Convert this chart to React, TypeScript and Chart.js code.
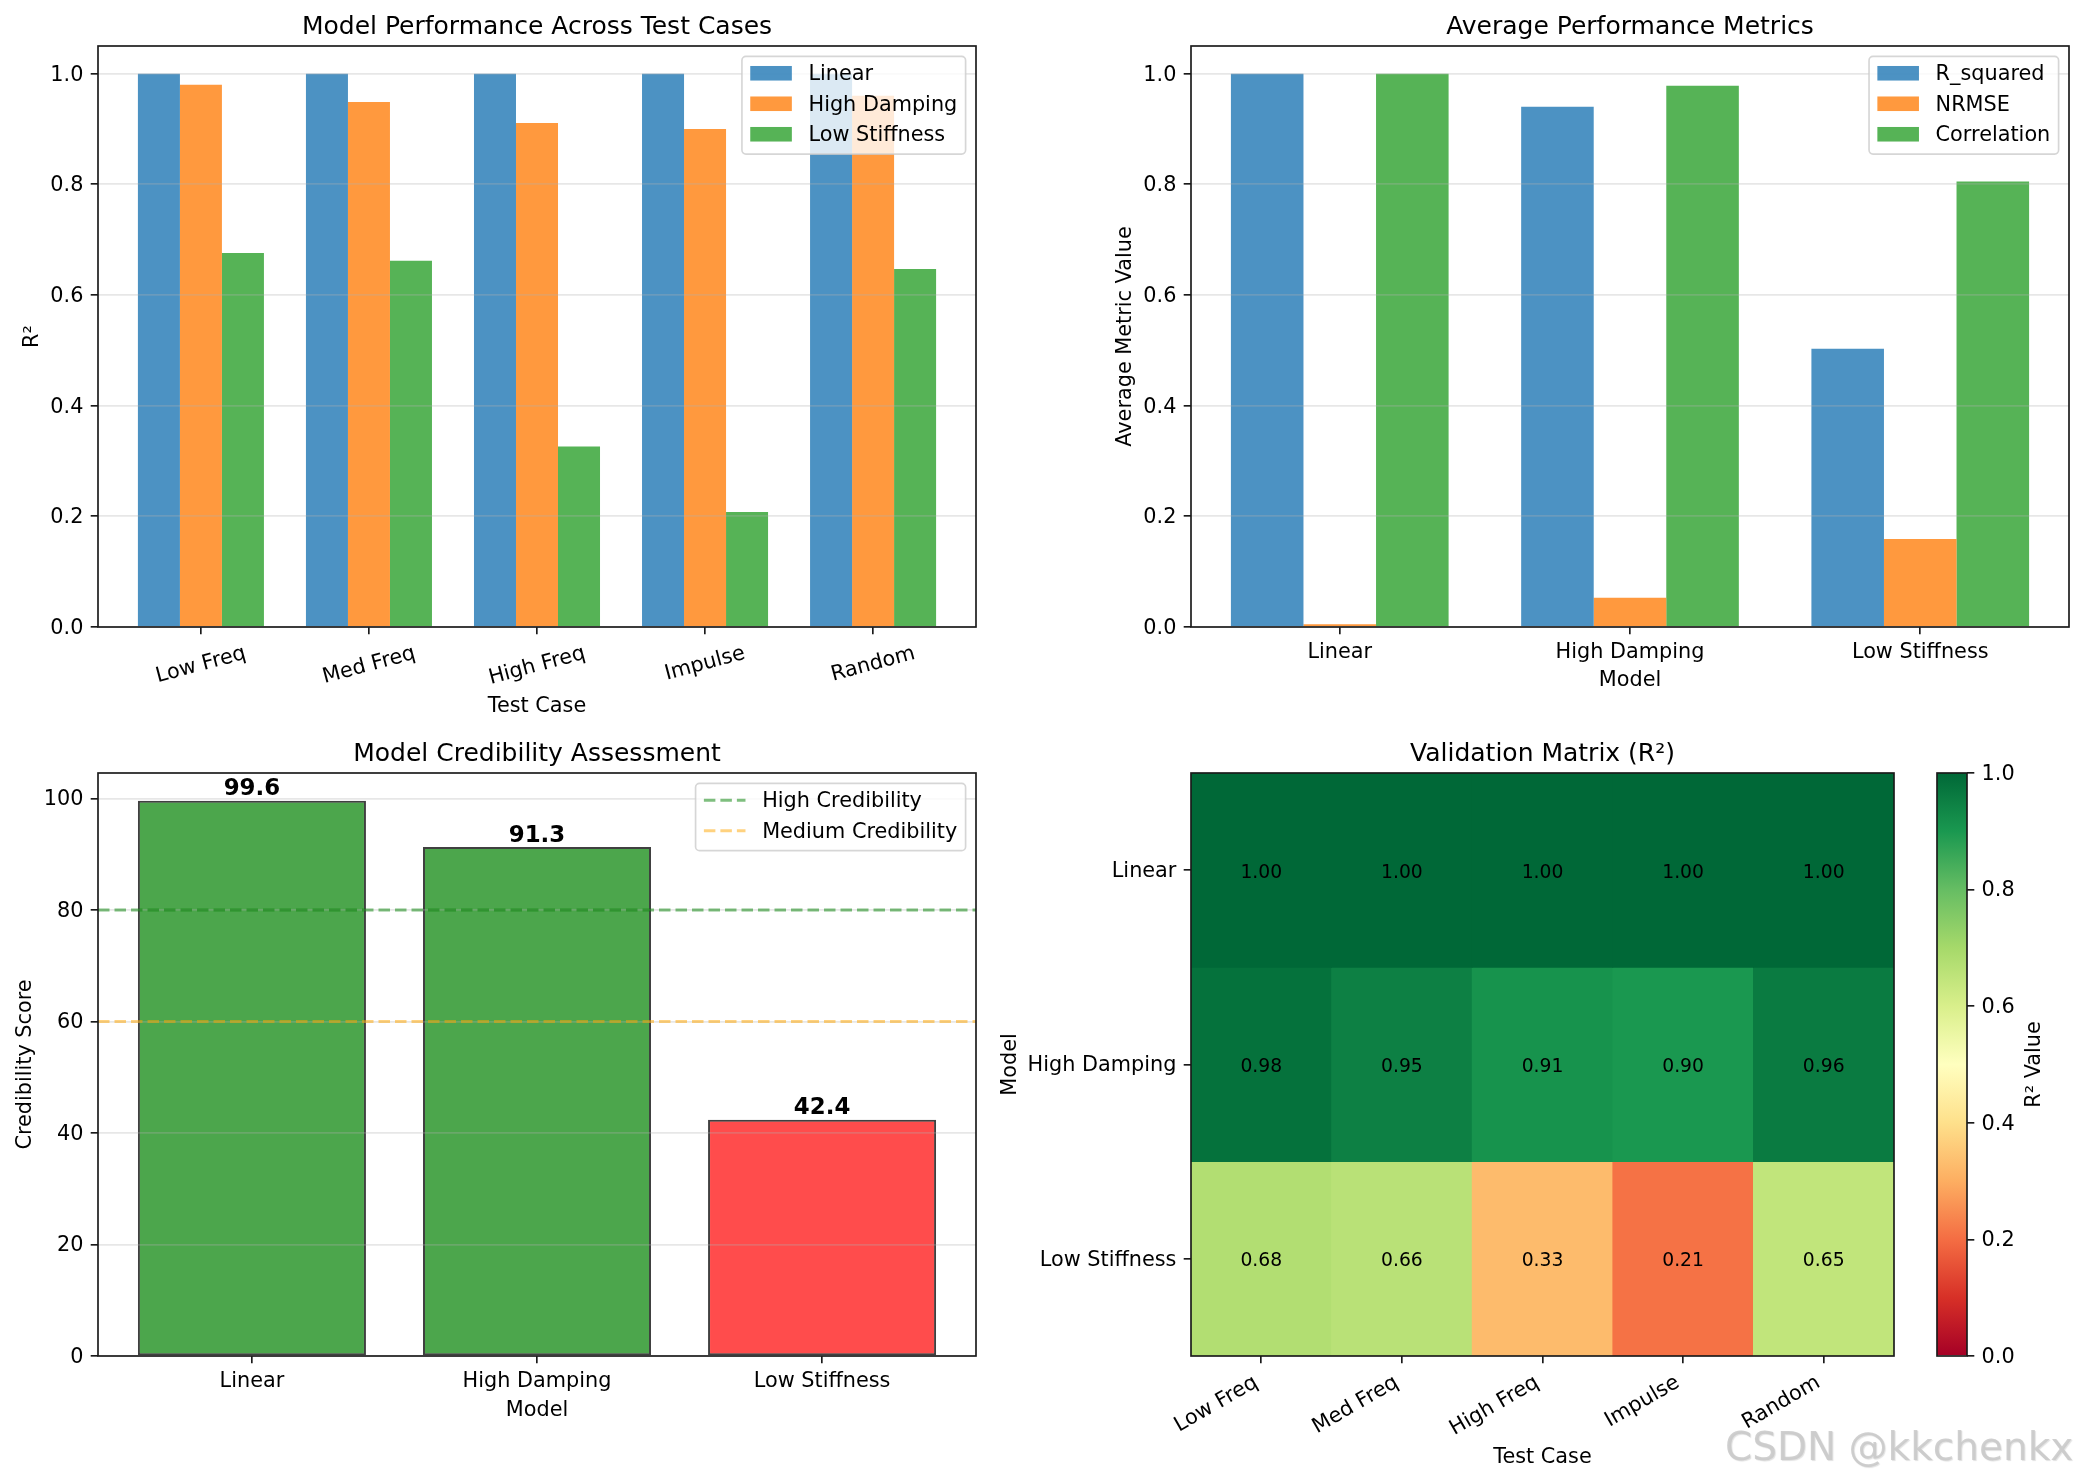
import React, { useEffect, useRef } from 'react';
import { Chart, registerables } from 'chart.js';

Chart.register(...registerables);

const PAGE_W = 2084;
const PAGE_H = 1481;
const FONT = '"DejaVu Sans", "Liberation Sans", sans-serif';
const FS = 20.8; // 10pt at 150 dpi
const TITLE_FS = 25;
const SPINE = '#1a1a1a';
const GRID = 'rgba(176,176,176,0.3)';
const LW = 1.67;
const TICK_LEN = 7.3;
const TICK_PAD = 7.3;

Chart.defaults.font.family = FONT;
Chart.defaults.color = '#000';

// ---------------- data ----------------
const testCases = ['Low Freq', 'Med Freq', 'High Freq', 'Impulse', 'Random'];
const modelNames = ['Linear', 'High Damping', 'Low Stiffness'];

// R² per test case
const r2Linear = [1.0, 1.0, 1.0, 1.0, 1.0];
const r2HighDamping = [0.98, 0.949, 0.911, 0.9, 0.96];
const r2LowStiffness = [0.676, 0.662, 0.326, 0.208, 0.647];

// averaged metrics per model
const metricNames = ['R_squared', 'NRMSE', 'Correlation'];
const avgRSquared = [1.0, 0.94, 0.503];
const avgNrmse = [0.005, 0.053, 0.159];
const avgCorrelation = [1.0, 0.978, 0.805];

// credibility
const credibilityScores = [99.6, 91.3, 42.4];
const thresholdValues = [80, 60];
const thresholdNames = ['High Credibility', 'Medium Credibility'];

// tick values
const r2Ticks = [0, 0.2, 0.4, 0.6, 0.8, 1.0];
const scoreTicks = [0, 20, 40, 60, 80, 100];

// ---------------- styling ----------------
const C_BLUE = 'rgba(31,119,180,0.8)';
const C_ORANGE = 'rgba(255,127,14,0.8)';
const C_GREEN = 'rgba(44,160,44,0.8)';
const LINE_GREEN = 'rgba(0,128,0,0.5)';
const LINE_ORANGE = 'rgba(255,165,0,0.5)';

const RDYLGN = [
  '#a50026', '#d73027', '#f46d43', '#fdae61', '#fee08b', '#ffffbf',
  '#d9ef8b', '#a6d96a', '#66bd63', '#1a9850', '#006837',
];

function hexToRgb(h: string) {
  return [parseInt(h.slice(1, 3), 16), parseInt(h.slice(3, 5), 16), parseInt(h.slice(5, 7), 16)];
}

function rdYlGn(v: number) {
  const t = Math.max(0, Math.min(1, v)) * (RDYLGN.length - 1);
  const i = Math.min(RDYLGN.length - 2, Math.floor(t));
  const f = t - i;
  const a = hexToRgb(RDYLGN[i]);
  const b = hexToRgb(RDYLGN[i + 1]);
  const c = a.map((x, k) => Math.round(x + (b[k] - x) * f));
  return `rgb(${c[0]},${c[1]},${c[2]})`;
}

const credColor = (v: number) =>
  v >= 80 ? 'rgba(0,128,0,0.7)' : v >= 60 ? 'rgba(255,165,0,0.7)' : 'rgba(255,0,0,0.7)';

// axes rectangles (page pixels)
type Rect = { left: number; top: number; right: number; bottom: number };
const PANELS: Record<string, Rect> = {
  perf: { left: 98, top: 46, right: 976, bottom: 627 },
  avg: { left: 1191, top: 46, right: 2069, bottom: 627 },
  cred: { left: 98, top: 773, right: 976, bottom: 1356 },
  heat: { left: 1191, top: 773, right: 1894, bottom: 1356 },
  cbar: { left: 1937, top: 773, right: 1967, bottom: 1356 },
};

const fontStr = (size: number, weight = 'normal') => `${weight} ${size}px ${FONT}`;

// each scale fills the whole margin on its side, so the plot area lands on the panel rectangle
function fitTo(size: number) {
  return (scale: any) => {
    if (scale.isHorizontal()) scale.height = size;
    else scale.width = size;
    scale.paddingLeft = 0;
    scale.paddingRight = 0;
    scale.paddingTop = 0;
    scale.paddingBottom = 0;
  };
}

function baseOptions(p: Rect, yOnRight = false) {
  return {
    responsive: false,
    animation: false,
    devicePixelRatio: 1,
    events: [],
    layout: {
      padding: {
        left: yOnRight ? p.left : 0,
        top: p.top,
        right: yOnRight ? 0 : PAGE_W - p.right,
        bottom: 0,
      },
    },
    plugins: { legend: { display: false }, tooltip: { enabled: false }, title: { display: false } },
  };
}

function indexAxis(p: Rect, min: number, max: number, labels: string[], showLabels: boolean, showTicks = true) {
  return {
    type: 'linear',
    min,
    max,
    bounds: 'data',
    offset: false,
    afterBuildTicks: (ax: any) => {
      ax.ticks = labels.map((_, i) => ({ value: i }));
    },
    afterFit: fitTo(PAGE_H - p.bottom),
    ticks: {
      display: showLabels,
      autoSkip: false,
      maxRotation: 0,
      minRotation: 0,
      padding: 5.5,
      font: { family: FONT, size: FS },
      color: '#000',
      callback: (v: number) => labels[Math.round(v)] ?? '',
    },
    grid: {
      display: showTicks,
      offset: false,
      drawOnChartArea: false,
      drawTicks: true,
      tickLength: TICK_LEN,
      tickColor: SPINE,
      tickWidth: LW,
      color: SPINE,
      lineWidth: LW,
    },
    border: { display: false },
  };
}

function valueAxis(
  p: Rect,
  min: number,
  max: number,
  ticks: number[],
  fmt: (v: number) => string,
  gridLines: boolean,
  extra: any = {},
) {
  const onRight = extra.position === 'right';
  return {
    type: 'linear',
    min,
    max,
    bounds: 'data',
    afterBuildTicks: (ax: any) => {
      ax.ticks = ticks.map((v) => ({ value: v }));
    },
    afterFit: fitTo(onRight ? PAGE_W - p.right : p.left),
    ticks: {
      autoSkip: false,
      padding: TICK_PAD,
      labelOffset: 1.5,
      font: { family: FONT, size: FS },
      color: '#000',
      callback: (v: number) => fmt(v),
    },
    grid: {
      drawOnChartArea: gridLines,
      drawTicks: true,
      tickLength: TICK_LEN,
      tickColor: SPINE,
      tickWidth: LW,
      color: GRID,
      lineWidth: LW,
      z: 1,
    },
    border: { display: false },
    ...extra,
  };
}

// ---------------- canvas drawing helpers ----------------
function drawFrame(chart: any) {
  const { ctx, chartArea: a } = chart;
  ctx.save();
  ctx.lineWidth = LW;
  ctx.strokeStyle = SPINE;
  ctx.strokeRect(a.left, a.top, a.right - a.left, a.bottom - a.top);
  ctx.restore();
}

function drawTitle(chart: any, text: string) {
  const { ctx, chartArea: a } = chart;
  ctx.save();
  ctx.font = fontStr(TITLE_FS);
  ctx.fillStyle = '#000';
  ctx.textAlign = 'center';
  ctx.textBaseline = 'alphabetic';
  ctx.fillText(text, (a.left + a.right) / 2, a.top - 12.5);
  ctx.restore();
}

function drawXTitle(chart: any, text: string, dy: number) {
  const { ctx, chartArea: a } = chart;
  ctx.save();
  ctx.font = fontStr(FS);
  ctx.fillStyle = '#000';
  ctx.textAlign = 'center';
  ctx.textBaseline = 'alphabetic';
  ctx.fillText(text, (a.left + a.right) / 2, a.bottom + dy);
  ctx.restore();
}

// vertical title reading upwards; x is the baseline position
function drawYTitle(chart: any, text: string, x: number) {
  const { ctx, chartArea: a } = chart;
  ctx.save();
  ctx.font = fontStr(FS);
  ctx.fillStyle = '#000';
  ctx.textAlign = 'center';
  ctx.textBaseline = 'alphabetic';
  ctx.translate(x, (a.top + a.bottom) / 2);
  ctx.rotate(-Math.PI / 2);
  ctx.fillText(text, 0, 0);
  ctx.restore();
}

function drawRotatedXLabels(chart: any, labels: string[], angleDeg: number, align: 'center' | 'right') {
  const { ctx, chartArea: a } = chart;
  const xs = chart.scales.x;
  const y0 = a.bottom + TICK_LEN + TICK_PAD + 1.5;
  const ang = (angleDeg * Math.PI) / 180;
  const th = FS;
  ctx.save();
  ctx.font = fontStr(FS);
  ctx.fillStyle = '#000';
  ctx.textAlign = 'center';
  ctx.textBaseline = 'alphabetic';
  labels.forEach((lab, i) => {
    const px = xs.getPixelForValue(i);
    const w = ctx.measureText(lab).width;
    const bw = w * Math.cos(ang) + th * Math.sin(ang);
    const bh = w * Math.sin(ang) + th * Math.cos(ang);
    const cx = align === 'center' ? px : px - bw / 2;
    const cy = y0 + bh / 2;
    ctx.save();
    ctx.translate(cx, cy);
    ctx.rotate(-ang);
    ctx.fillText(lab, 0, 0.264 * FS);
    ctx.restore();
  });
  ctx.restore();
}

type LegendEntry = { label: string; color: string; kind: 'patch' | 'dash' };

function drawLegend(chart: any, entries: LegendEntry[]) {
  const { ctx, chartArea: a } = chart;
  ctx.save();
  ctx.font = fontStr(FS);
  const textW = Math.max(...entries.map((e) => ctx.measureText(e.label).width));
  const pad = 0.4 * FS;
  const handleLen = 2 * FS;
  const handleGap = 0.8 * FS;
  const rowH = 0.966 * FS;
  const rowGap = 0.5 * FS;
  const w = 2 * pad + handleLen + handleGap + textW;
  const h = 2 * pad + entries.length * rowH + (entries.length - 1) * rowGap;
  const right = a.right - 0.5 * FS;
  const top = a.top + 0.5 * FS;
  const left = right - w;
  ctx.beginPath();
  ctx.roundRect(left, top, w, h, 4);
  ctx.fillStyle = 'rgba(255,255,255,0.8)';
  ctx.fill();
  ctx.lineWidth = LW;
  ctx.strokeStyle = 'rgba(204,204,204,0.8)';
  ctx.stroke();
  entries.forEach((e, k) => {
    const cy = top + pad + rowH / 2 - 1.5 + k * (rowH + rowGap);
    const hx = left + pad;
    if (e.kind === 'patch') {
      ctx.fillStyle = e.color;
      ctx.fillRect(hx, cy - 0.35 * FS, handleLen, 0.7 * FS);
    } else {
      ctx.save();
      ctx.setLineDash([11.5, 5]);
      ctx.lineWidth = 3.1;
      ctx.strokeStyle = e.color;
      ctx.beginPath();
      ctx.moveTo(hx, cy);
      ctx.lineTo(hx + handleLen, cy);
      ctx.stroke();
      ctx.restore();
    }
    ctx.fillStyle = '#000';
    ctx.textAlign = 'left';
    ctx.textBaseline = 'alphabetic';
    ctx.fillText(e.label, hx + handleLen + handleGap, cy + 7);
  });
  ctx.restore();
}

type Decor = {
  title?: string;
  xTitle?: string;
  xTitleDy?: number;
  yTitle?: string;
  yTitleX?: (a: any) => number;
  rotatedX?: { labels: string[]; angle: number; align: 'center' | 'right' };
  legend?: LegendEntry[];
  extra?: (chart: any) => void;
};

function decorPlugin(d: Decor) {
  return {
    id: 'panelDecor',
    afterDraw(chart: any) {
      if (d.extra) d.extra(chart);
      drawFrame(chart);
      if (d.rotatedX) drawRotatedXLabels(chart, d.rotatedX.labels, d.rotatedX.angle, d.rotatedX.align);
      if (d.title) drawTitle(chart, d.title);
      if (d.xTitle) drawXTitle(chart, d.xTitle, d.xTitleDy ?? 59);
      if (d.yTitle && d.yTitleX) drawYTitle(chart, d.yTitle, d.yTitleX(chart.chartArea));
      if (d.legend) drawLegend(chart, d.legend);
    },
  };
}

const barDefaults = { borderWidth: 0, inflateAmount: 0, barPercentage: 1 };

// ---------------- chart builders ----------------
function buildPerformance() {
  const p = PANELS.perf;
  const series = [r2Linear, r2HighDamping, r2LowStiffness];
  const colors = [C_BLUE, C_ORANGE, C_GREEN];
  return {
    type: 'bar',
    data: {
      datasets: series.map((vals, k) => ({
        label: modelNames[k],
        data: vals.map((v, i) => ({ x: i, y: v })),
        backgroundColor: colors[k],
        ...barDefaults,
        categoryPercentage: 0.75,
      })),
    },
    options: {
      ...baseOptions(p),
      scales: {
        x: indexAxis(p, -0.6125, 4.6125, testCases, false),
        y: valueAxis(p, 0, 1.05, r2Ticks, (v) => v.toFixed(1), true),
      },
    },
    plugins: [
      decorPlugin({
        title: 'Model Performance Across Test Cases',
        xTitle: 'Test Case',
        xTitleDy: 85,
        yTitle: 'R²',
        yTitleX: (a) => a.left - 60,
        rotatedX: { labels: testCases, angle: 15, align: 'center' },
        legend: modelNames.map((m, k) => ({ label: m, color: colors[k], kind: 'patch' as const })),
      }),
    ],
  };
}

function buildAverages() {
  const p = PANELS.avg;
  const series = [avgRSquared, avgNrmse, avgCorrelation];
  const colors = [C_BLUE, C_ORANGE, C_GREEN];
  return {
    type: 'bar',
    data: {
      datasets: series.map((vals, k) => ({
        label: metricNames[k],
        data: vals.map((v, i) => ({ x: i, y: v })),
        backgroundColor: colors[k],
        ...barDefaults,
        categoryPercentage: 0.75,
      })),
    },
    options: {
      ...baseOptions(p),
      scales: {
        x: indexAxis(p, -0.5125, 2.5125, modelNames, true),
        y: valueAxis(p, 0, 1.05, r2Ticks, (v) => v.toFixed(1), true),
      },
    },
    plugins: [
      decorPlugin({
        title: 'Average Performance Metrics',
        xTitle: 'Model',
        xTitleDy: 59,
        yTitle: 'Average Metric Value',
        yTitleX: (a) => a.left - 60,
        legend: metricNames.map((m, k) => ({ label: m, color: colors[k], kind: 'patch' as const })),
      }),
    ],
  };
}

function buildCredibility() {
  const p = PANELS.cred;
  const lineColors = [LINE_GREEN, LINE_ORANGE];
  const extras = (chart: any) => {
    const { ctx, chartArea: a, scales } = chart;
    ctx.save();
    ctx.beginPath();
    ctx.rect(a.left, a.top, a.right - a.left, a.bottom - a.top);
    ctx.clip();
    thresholdValues.forEach((t, k) => {
      const y = scales.y.getPixelForValue(t);
      ctx.setLineDash([11.5, 5]);
      ctx.lineWidth = 3.1;
      ctx.strokeStyle = lineColors[k];
      ctx.beginPath();
      ctx.moveTo(a.left, y);
      ctx.lineTo(a.right, y);
      ctx.stroke();
    });
    ctx.restore();
    ctx.save();
    ctx.font = fontStr(22.9, 'bold');
    ctx.fillStyle = '#000';
    ctx.textAlign = 'center';
    ctx.textBaseline = 'alphabetic';
    credibilityScores.forEach((v, i) => {
      ctx.fillText(v.toFixed(1), scales.x.getPixelForValue(i), scales.y.getPixelForValue(v) - 5.5);
    });
    ctx.restore();
  };
  return {
    type: 'bar',
    data: {
      datasets: [
        {
          label: 'Credibility Score',
          data: credibilityScores.map((v, i) => ({ x: i, y: v })),
          backgroundColor: credibilityScores.map(credColor),
          borderColor: 'rgba(0,0,0,0.75)',
          borderWidth: 2,
          borderSkipped: false,
          inflateAmount: 0,
          barPercentage: 1,
          categoryPercentage: 0.8,
        },
      ],
    },
    options: {
      ...baseOptions(p),
      scales: {
        x: indexAxis(p, -0.54, 2.54, modelNames, true),
        y: valueAxis(p, 0, 104.58, scoreTicks, (v) => String(Math.round(v)), true),
      },
    },
    plugins: [
      decorPlugin({
        title: 'Model Credibility Assessment',
        xTitle: 'Model',
        xTitleDy: 59.5,
        yTitle: 'Credibility Score',
        yTitleX: (a) => a.left - 67.5,
        legend: thresholdNames.map((n, k) => ({ label: n, color: lineColors[k], kind: 'dash' as const })),
        extra: extras,
      }),
    ],
  };
}

function buildMatrix() {
  const p = PANELS.heat;
  const matrix = [r2Linear, r2HighDamping, r2LowStiffness];
  const cellLabels = (chart: any) => {
    const { ctx, scales } = chart;
    ctx.save();
    ctx.font = fontStr(18.75);
    ctx.fillStyle = '#000';
    ctx.textAlign = 'center';
    ctx.textBaseline = 'middle';
    matrix.forEach((row, r) =>
      row.forEach((v, c) => {
        ctx.fillText(v.toFixed(2), scales.x.getPixelForValue(c), scales.y.getPixelForValue(r) + 2.5);
      }),
    );
    ctx.restore();
  };
  return {
    type: 'bar',
    data: {
      datasets: matrix.map((row, r) => ({
        label: modelNames[r],
        data: row.map((_, c) => ({ x: c, y: [r - 0.5, r + 0.5] })),
        backgroundColor: row.map((v) => rdYlGn(v)),
        borderWidth: 0,
        grouped: false,
        barPercentage: 1,
        categoryPercentage: 1,
        inflateAmount: 0.4,
      })),
    },
    options: {
      ...baseOptions(p),
      scales: {
        x: indexAxis(p, -0.5, 4.5, testCases, false),
        y: valueAxis(p, -0.5, 2.5, [0, 1, 2], (v) => modelNames[Math.round(v)] ?? '', false, { reverse: true }),
      },
    },
    plugins: [
      decorPlugin({
        title: 'Validation Matrix (R²)',
        xTitle: 'Test Case',
        xTitleDy: 107,
        yTitle: 'Model',
        yTitleX: (a) => a.left - 175,
        rotatedX: { labels: testCases, angle: 30, align: 'right' },
        extra: cellLabels,
      }),
    ],
  };
}

function buildColorbar() {
  const p = PANELS.cbar;
  return {
    type: 'bar',
    data: {
      datasets: [
        {
          label: 'R² Value',
          data: [{ x: 0, y: [0, 1] }],
          backgroundColor: (c: any) => {
            const a = c.chart.chartArea;
            if (!a) return 'rgba(0,0,0,0)';
            const g = c.chart.ctx.createLinearGradient(0, a.bottom, 0, a.top);
            RDYLGN.forEach((col, k) => g.addColorStop(k / (RDYLGN.length - 1), col));
            return g;
          },
          borderWidth: 0,
          barPercentage: 1,
          categoryPercentage: 1,
          inflateAmount: 0,
        },
      ],
    },
    options: {
      ...baseOptions(p, true),
      scales: {
        x: indexAxis(p, -0.5, 0.5, [''], false, false),
        y: valueAxis(p, 0, 1, r2Ticks, (v) => v.toFixed(1), false, { position: 'right' }),
      },
    },
    plugins: [
      decorPlugin({
        yTitle: 'R² Value',
        yTitleX: (a) => a.right + 73,
      }),
    ],
  };
}

// ---------------- components ----------------
function ChartLayer({ build }: { build: () => any }) {
  const ref = useRef<HTMLCanvasElement>(null);
  useEffect(() => {
    const chart = new Chart(ref.current as HTMLCanvasElement, build() as any);
    return () => chart.destroy();
  }, [build]);
  return (
    <canvas
      ref={ref}
      width={PAGE_W}
      height={PAGE_H}
      style={{ position: 'absolute', left: 0, top: 0, width: PAGE_W, height: PAGE_H }}
    />
  );
}

export default function App() {
  return (
    <div
      style={{
        position: 'absolute',
        left: 0,
        top: 0,
        width: PAGE_W,
        height: PAGE_H,
        background: '#fff',
        overflow: 'hidden',
      }}
    >
      <ChartLayer build={buildPerformance} />
      <ChartLayer build={buildAverages} />
      <ChartLayer build={buildCredibility} />
      <ChartLayer build={buildMatrix} />
      <ChartLayer build={buildColorbar} />
      <div
        style={{
          position: 'absolute',
          left: 1725,
          top: 1427,
          fontFamily: FONT,
          fontSize: 39,
          lineHeight: '39px',
          whiteSpace: 'nowrap',
          color: 'rgba(200,200,200,0.85)',
          textShadow: '1px 1px 1px rgba(0,0,0,0.12)',
        }}
      >
        CSDN @kkchenkx
      </div>
    </div>
  );
}
